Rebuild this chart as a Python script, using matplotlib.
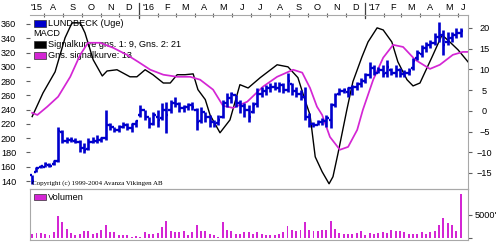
import numpy as np
import pandas as pd
import matplotlib
matplotlib.use('Agg')
import matplotlib.pyplot as plt
import matplotlib.transforms as mtransforms
from matplotlib.patches import Rectangle

plt.rcParams['font.family'] = ['Liberation Sans', 'DejaVu Sans']

# weekly bars, first week starts 2015-07-13
start = pd.Timestamp('2015-07-13')

opens = [148, 153, 159, 160, 163, 164, 168, 208, 196, 198,
         196, 195, 186, 185, 194, 196, 197, 200, 218, 215,
         212, 216, 219, 214, 220, 232, 240, 230, 220, 230,
         228, 240, 240, 250, 248, 242, 244, 246, 240, 224,
         236, 230, 222, 221, 230, 250, 256, 260, 250, 245,
         240, 236, 248, 262, 266, 270, 272, 270, 274, 268,
         276, 266, 262, 258, 230, 220, 219, 222, 224, 226,
         246, 262, 266, 265, 270, 272, 276, 280, 288, 298,
         292, 295, 292, 296, 292, 296, 290, 292, 298, 312,
         318, 326, 330, 334, 342, 345, 335, 340, 345, 348]
highs = [149, 160, 163, 166, 165, 170, 216, 212, 202, 202,
         200, 198, 193, 200, 202, 205, 202, 240, 221, 216,
         219, 223, 221, 221, 226, 247, 240, 230, 237, 240,
         249, 251, 254, 258, 251, 247, 249, 251, 242, 244,
         237, 233, 226, 233, 254, 263, 265, 261, 254, 249,
         247, 251, 270, 272, 275, 277, 279, 279, 277, 291,
         277, 272, 268, 272, 235, 223, 226, 228, 233, 249,
         263, 270, 270, 272, 275, 279, 284, 291, 307, 303,
         300, 303, 310, 298, 303, 298, 296, 298, 312, 324,
         331, 335, 338, 347, 363, 352, 349, 349, 354, 354]
lows = [136, 152, 158, 159, 160, 163, 167, 193, 193, 195,
        193, 181, 179, 183, 193, 193, 195, 198, 212, 209,
        209, 214, 212, 209, 216, 230, 226, 214, 219, 216,
        226, 207, 235, 244, 237, 237, 240, 240, 212, 221,
        223, 216, 216, 219, 228, 244, 249, 244, 235, 230,
        223, 235, 244, 258, 261, 265, 268, 265, 263, 265,
        261, 258, 254, 226, 216, 216, 219, 219, 216, 214,
        244, 261, 263, 258, 261, 268, 272, 277, 284, 289,
        291, 286, 286, 289, 286, 286, 286, 289, 296, 310,
        314, 321, 326, 331, 335, 317, 331, 335, 340, 342]
closes = [140, 158, 161, 164, 161, 168, 210, 196, 198, 197,
          195, 186, 184, 195, 196, 197, 200, 218, 215, 212,
          216, 219, 214, 220, 224, 240, 230, 220, 232, 225,
          240, 232, 250, 248, 242, 244, 246, 243, 222, 236,
          230, 222, 220, 225, 250, 256, 262, 250, 245, 240,
          230, 246, 262, 266, 270, 272, 270, 274, 268, 280,
          266, 262, 258, 230, 220, 219, 222, 224, 228, 246,
          260, 266, 267, 270, 272, 276, 280, 288, 298, 292,
          295, 290, 300, 292, 296, 290, 292, 294, 308, 320,
          326, 330, 334, 342, 345, 330, 340, 345, 348, 350]
volume = [730, 1030, 1030, 730, 510, 1250, 4700, 3450, 1980, 1030,
          510, 880, 1470, 1470, 880, 1030, 1610, 2860, 1250, 1250,
          510, 510, 510, 150, 290, 150, 1250, 880, 880, 1100,
          2350, 3590, 1470, 1250, 1250, 1470, 510, 1170, 2710, 1470,
          1470, 880, 510, 150, 3450, 1610, 1470, 880, 880, 1170,
          1250, 880, 1250, 730, 510, 510, 510, 730, 1250, 2490,
          1610, 1470, 1760, 3450, 1610, 1470, 1470, 1610, 1610, 3670,
          1980, 1030, 880, 880, 880, 1030, 1470, 510, 1030, 880,
          1030, 1170, 1030, 1610, 1470, 1470, 1170, 880, 880, 880,
          1170, 730, 1250, 1470, 2710, 4400, 3230, 2710, 1470, 9530]

# MACD (signal curve 9/21) and its 13-week average, read at week positions
macd_wk = [0.0, 2.5, 5.3, 7.6, 9.2, 11.1, 12.2, 14.1, 16.2, 17.3,
           19.6, 22.6, 24.2, 26.1, 27.9, 30.3, 31.9, 33.5, 35.3, 37.2,
           38.3, 40.0, 41.1, 43.4, 45.7, 48.0, 49.9, 52.7, 56.6, 59.1,
           61.4, 63.0, 64.2, 65.4, 67.0, 68.6, 69.5, 70.7, 72.7, 74.1,
           76.2, 77.6, 79.7, 81.1, 83.1, 84.5, 86.6, 88.0, 89.6, 92.4,
           94.7, 96.5, 98.4, 100.7]
macd_val = [-1.4, 4.3, 9.4, 17.6, 21.2, 21.2, 18.8, 12.3, 8.4, 9.6,
            9.9, 8.2, 8.2, 9.9, 8.7, 6.7, 6.7, 8.7, 8.7, 8.9,
            5.1, 2.7, -1.0, -5.3, -2.2, 6.3, 5.5, 8.0, 11.1, 10.6,
            8.0, 2.7, -1.0, -11.1, -14.7, -17.6, -15.9, -10.1, 0.2, 7.0,
            13.0, 16.6, 20.0, 19.5, 16.6, 11.8, 7.5, 6.0, 6.7, 13.0,
            18.3, 16.6, 14.7, 11.8]
sig_wk = [0.0, 1.2, 3.5, 6.0, 8.8, 11.1, 12.9, 15.7, 18.7, 21.9,
          24.5, 27.3, 30.3, 33.5, 36.5, 38.8, 41.8, 44.1, 46.4, 49.7,
          53.3, 56.6, 60.3, 62.4, 64.2, 65.8, 67.0, 68.8, 71.1, 73.0,
          75.1, 76.4, 78.8, 81.1, 83.4, 85.7, 88.5, 91.9, 94.2, 97.2,
          99.5, 100.7]
sig_val = [-0.5, -1.0, 1.0, 3.4, 8.2, 13.5, 16.4, 16.4, 15.2, 13.5,
           11.8, 9.9, 8.7, 8.2, 8.2, 7.5, 5.1, 1.2, 0.7, 2.2,
           5.8, 8.2, 9.9, 9.2, 5.5, 1.0, -1.0, -6.3, -9.4, -8.7,
           -4.6, 0.2, 7.5, 12.8, 15.9, 15.4, 12.3, 10.1, 11.1, 13.5,
           14.2, 14.2]

month_labels = ["'15", 'A', 'S', 'O', 'N', 'D', "'16", 'F', 'M', 'A', 'M', 'J',
                'J', 'A', 'S', 'O', 'N', 'D', "'17", 'F', 'M', 'A', 'M', 'J']

BLUE = '#0000cc'
MAG = '#d426d4'
GREY = '#a8a8a8'
FS = 6.6


def wk(d):
    return (pd.Timestamp(d) - start).days / 7.0


weeks = np.arange(len(closes))
xmin, xmax = -0.5, 100.7

fig = plt.figure(figsize=(5.0, 2.42), dpi=100)
ax = fig.add_axes([0.06, 0.219, 0.876, 0.719])
ax2 = ax.twinx()
vax = fig.add_axes([0.06, 0.00826, 0.876, 0.2107])

# price bars above the MACD axes
ax.set_zorder(ax2.get_zorder() + 1)
ax.patch.set_visible(False)

ax.vlines(weeks, lows, highs, color=BLUE, lw=1.9, capstyle='butt')
ax.hlines(opens, weeks - 0.5, weeks, color=BLUE, lw=1.7, capstyle='butt')
ax.hlines(closes, weeks, weeks + 0.5, color=BLUE, lw=1.7, capstyle='butt')

ax2.plot(macd_wk, macd_val, color='black', lw=1.0, zorder=3)
ax2.plot(sig_wk, sig_val, color=MAG, lw=1.25, zorder=3)

ax.set_xlim(xmin, xmax)
ax.set_ylim(128.8, 372.6)
ax2.set_ylim(-18.86, 23.1)

# left axis
ax.set_yticks(np.arange(140, 361, 20))
ax.tick_params(axis='y', left=True, right=False, length=3, width=0.8,
               color='#606060', labelsize=FS, pad=7)
# right axis
ax2.set_yticks(np.arange(-15, 21, 5))
ax2.tick_params(axis='y', length=3, width=0.8, color='#606060',
                labelsize=FS, pad=9)
for lab in ax2.get_yticklabels():
    lab.set_horizontalalignment('center')

# top month axis
months = pd.date_range('2015-07-01', '2017-07-01', freq='MS')
mstarts = [wk(m) for m in months]
inside = [m for m in mstarts if xmin < m < xmax]
centers = []
for a, b in zip(mstarts[:-1], mstarts[1:]):
    a, b = max(a, xmin), min(b, xmax)
    centers.append((a + b) / 2)
ax.xaxis.tick_top()
ax.set_xticks(centers)
ax.set_xticklabels(month_labels)
ax.set_xticks(inside, minor=True)
ax.tick_params(axis='x', which='major', length=0, labelsize=FS, pad=2.5)
ax.tick_params(axis='x', which='minor', length=3, width=0.8,
               color='#606060', direction='inout')
blend = mtransforms.blended_transform_factory(ax.transData, ax.transAxes)
for m in months:
    if m.month == 1:
        ax.plot([wk(m)] * 2, [0.985, 1.07], color='#404040', lw=0.9,
                transform=blend, clip_on=False)

ax.spines['left'].set_visible(False)
for s in ['top', 'bottom', 'right']:
    ax.spines[s].set_color(GREY)
    ax.spines[s].set_linewidth(0.8)
for s in ax2.spines.values():
    s.set_visible(False)


def px(x, y):
    return x / 500.0, 1 - y / 242.0


def legend_patch(axis, x, y, w, h, color):
    x0, y0 = px(x, y + h)
    axis.add_patch(Rectangle((x0, y0), w / 500.0, h / 242.0, facecolor=color,
                             edgecolor='#303030', lw=0.5,
                             transform=fig.transFigure, clip_on=False, zorder=1))


def legend_text(axis, x, y, s):
    axis.text(*px(x, y), s, transform=fig.transFigure, fontsize=FS,
              va='center', ha='left', zorder=1)


legend_patch(ax2, 34, 20, 12, 7, BLUE)
legend_text(ax2, 48, 23.5, 'LUNDBECK (Uge)')
legend_text(ax2, 33, 34, 'MACD')
legend_patch(ax2, 34, 41, 12, 7, 'black')
legend_text(ax2, 48, 44.5, 'Signalkurve gns. 1: 9, Gns. 2: 21')
legend_patch(ax2, 34, 52, 12, 7, MAG)
legend_text(ax2, 48, 55.5, 'Gns. signalkurve: 13')

ax.text(*px(32, 183), 'Copyright (c) 1999-2004 Avanza Vikingen AB',
        transform=fig.transFigure, fontsize=5, family='Liberation Serif',
        va='center', ha='left')

# volume panel
vax.bar(weeks, volume, width=0.45, color=MAG, linewidth=0)
vax.set_xlim(xmin, xmax)
vax.set_ylim(-506, 10714)
vax.set_xticks([])
vax.yaxis.tick_right()
vax.set_yticks([0, 5000])
vax.set_yticklabels(['', "5000'"])
vax.tick_params(axis='y', length=3, width=0.8, color='#606060',
                labelsize=FS, pad=2)
for s in vax.spines.values():
    s.set_color(GREY)
    s.set_linewidth(0.8)
legend_patch(vax, 34, 194, 12, 6, MAG)
legend_text(vax, 48, 197, 'Volumen')

fig.savefig('out.png', dpi=100)
